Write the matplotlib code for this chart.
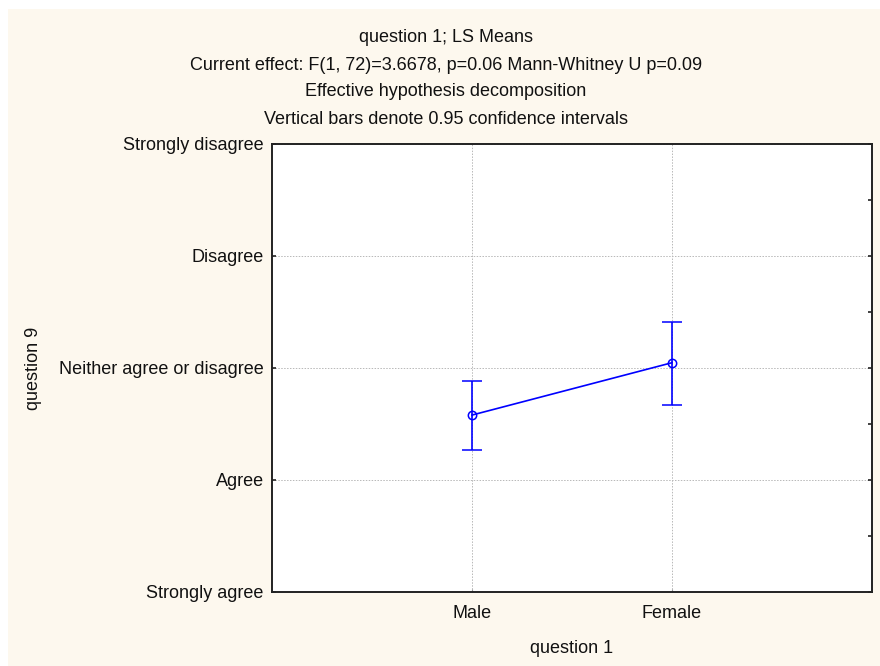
#!/usr/bin/env python3
import matplotlib
matplotlib.use("Agg")
import matplotlib.pyplot as plt
from matplotlib.patches import Rectangle
from matplotlib.ticker import MultipleLocator

plt.rcParams["font.family"] = ["Liberation Sans", "DejaVu Sans"]

# data
groups = ["Male", "Female"]
means = [2.578, 3.045]
ci_low = [2.266, 2.667]
ci_high = [2.884, 3.41]
levels = ["Strongly agree", "Agree", "Neither agree or disagree",
          "Disagree", "Strongly disagree"]
title_lines = [
    "question 1; LS Means",
    "Current effect: F(1, 72)=3.6678, p=0.06 Mann-Whitney U p=0.09",
    "Effective hypothesis decomposition",
    "Vertical bars denote 0.95 confidence intervals",
]

W, H = 880, 666
CREAM = "#FDF8EE"
BLUE = "#0000FF"
FS = 13


def main():
    fig = plt.figure(figsize=(W / 100, H / 100), dpi=100)
    fig.patch.set_facecolor("white")
    fig.patches.append(Rectangle((8 / W, 0), 1, 1 - 9 / H, transform=fig.transFigure,
                                 facecolor=CREAM, edgecolor="none", zorder=-10))

    ax = fig.add_axes([272 / W, 1 - 592 / H, 600 / W, (592 - 143.5) / H])
    ax.set_facecolor("white")

    xs = list(range(1, len(groups) + 1))
    yerr = [[m - lo for m, lo in zip(means, ci_low)],
            [hi - m for m, hi in zip(means, ci_high)]]
    ax.errorbar(xs, means, yerr=yerr, color=BLUE, lw=1.2, capsize=7.5, capthick=1.2,
                marker="o", ms=6, mfc="none", mec=BLUE, mew=1.1, zorder=3)

    ax.set_xlim(0, len(groups) + 1)
    ax.set_ylim(1, len(levels))
    ax.set_xticks(xs)
    ax.set_xticklabels(groups, fontsize=FS)
    ax.set_yticks(range(1, len(levels) + 1))
    ax.set_yticklabels(levels, fontsize=FS)
    ax.yaxis.set_minor_locator(MultipleLocator(0.5))

    ax.grid(True, which="major", color="#b8b8b8", linestyle=(0, (1.5, 1.5)), lw=0.7)
    ax.set_axisbelow(True)

    ax.tick_params(axis="y", which="major", direction="in", length=3, width=1.2,
                   left=True, right=True, pad=6, colors="#222222", labelcolor="#111111")
    ax.tick_params(axis="y", which="minor", direction="in", length=3, width=1.2,
                   left=False, right=True, colors="#222222")
    ax.tick_params(axis="x", direction="in", length=2, width=0.8, bottom=True, top=False,
                   pad=9, colors="#999999", labelcolor="#111111")

    for s in ax.spines.values():
        s.set_linewidth(1.4)
        s.set_color("#222222")

    ax.set_xlabel("question 1", fontsize=FS, labelpad=13, color="#111111")
    fig.text(33 / W, 1 - 368 / H, "question 9", rotation=90, fontsize=FS,
             ha="center", va="center", color="#111111")

    for i, line in enumerate(title_lines):
        fig.text(446 / W, 1 - (36 + 27 * i) / H, line, fontsize=FS,
                 ha="center", va="center_baseline", color="#111111")

    fig.savefig("out.png", dpi=100)


if __name__ == "__main__":
    main()
